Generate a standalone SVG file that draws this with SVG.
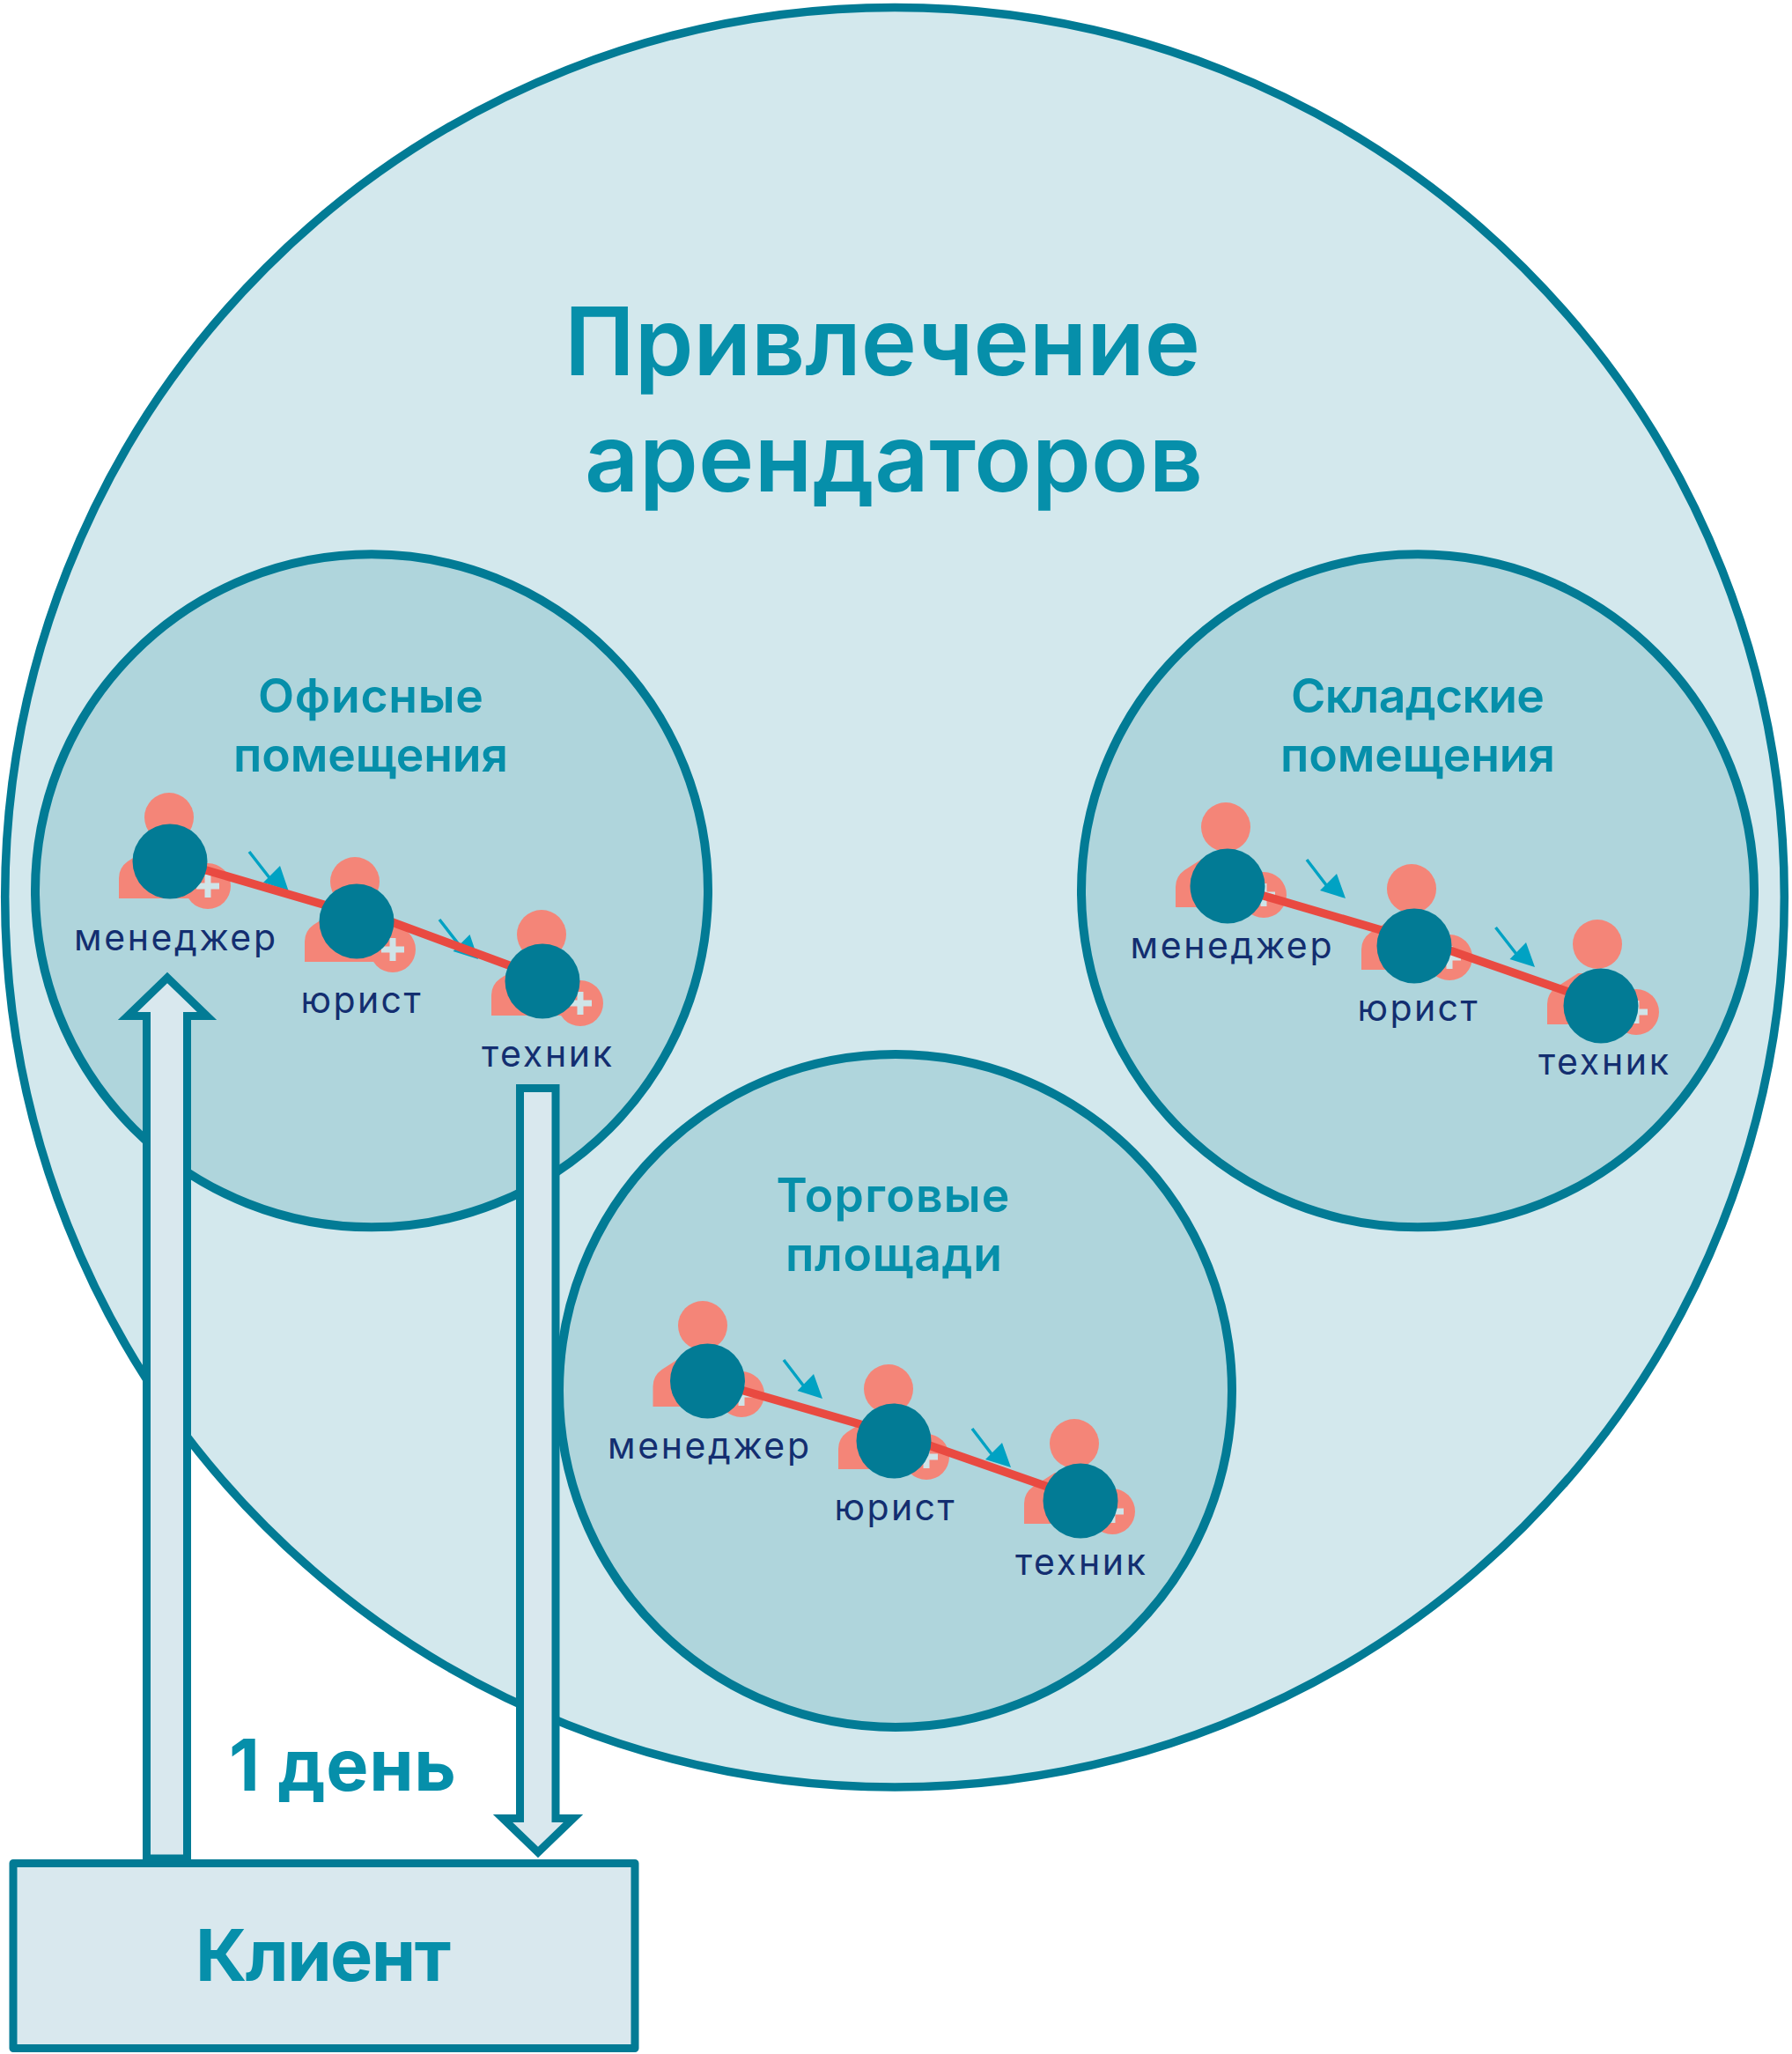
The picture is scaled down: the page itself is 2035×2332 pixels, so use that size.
<svg xmlns="http://www.w3.org/2000/svg" width="2035" height="2332" viewBox="0 0 2035 2332">
<style>
text{font-family:"Inter","Liberation Sans",sans-serif;text-anchor:middle}
.big{fill:#D3E8ED;stroke:#027B95;stroke-width:9.5}
.sub{fill:#AFD5DC;stroke:#027B95;stroke-width:10}
.t1{font-size:107px;font-weight:600;fill:#068FAA}
.t2{font-size:53.500px;font-weight:600;fill:#068FAA}
.t3{font-size:81px;font-weight:700;fill:#068FAA}
.lb{font-size:41px;fill:#132E70}
.salmon{fill:#F48578}
.plus{fill:#CFE4E8}
.disc{fill:#027B95}
.red{stroke:#E94A41;stroke-width:9.500;fill:none}
.ah{stroke:#00A2C3;stroke-width:3.500;fill:none}
.ahh{fill:#00A2C3}
.blk{fill:#D9E8EE;stroke:#027B95;stroke-width:9;stroke-linejoin:miter}
.box{fill:#D9E8EE;stroke:#027B95;stroke-width:9;stroke-linejoin:round}
</style>
<defs>
<path id="plus" d="M-13-3.500H-3.500V-13H3.500V-3.500H13V3.500H3.500V13H-3.500V3.500H-13Z" class="plus"/>
<path id="body" d="M0 0V-23Q0-35 10-42L35-58H65L85-30V0Z" class="salmon"/>
<circle id="head" r="28" class="salmon"/>
<circle id="badge" r="26" class="salmon"/>
<circle id="dsc" r="42.500" class="disc"/>
</defs>

<g id="outer-circle"><circle class="big" cx="1016" cy="1018.700" r="1010.300"/></g>
<g id="title"><text class="t1" x="1002" y="426" textLength="722">Привлечение</text><text class="t1" x="1015" y="558" textLength="702">арендаторов</text></g>

<g id="office"><circle class="sub" cx="422" cy="1011.300" r="382"/><text class="t2" x="421" y="809" textLength="256">Офисные</text><text class="t2" x="421" y="876" textLength="312">помещения</text></g>
<g id="warehouse"><circle class="sub" cx="1610" cy="1011.300" r="382"/><text class="t2" x="1610" y="809" textLength="288">Складские</text><text class="t2" x="1610" y="876" textLength="312">помещения</text></g>
<g id="retail"><circle class="sub" cx="1017" cy="1579" r="382"/><text class="t2" x="1014" y="1376" textLength="265">Торговые</text><text class="t2" x="1015" y="1443" textLength="246">площади</text></g>

<g id="office-manager"><use href="#head" x="192" y="928"/><use href="#body" x="135" y="1020"/><use href="#badge" x="236" y="1006"/><use href="#plus" x="236" y="1006"/><text class="lb" x="198.500" y="1079" textLength="229">менеджер</text></g>
<g id="office-lawyer"><use href="#head" x="403" y="1001"/><use href="#body" x="346" y="1092"/><use href="#badge" x="446" y="1078"/><use href="#plus" x="446" y="1078"/><text class="lb" x="409.500" y="1150" textLength="136">юрист</text></g>
<g id="office-tech"><use href="#head" x="615" y="1061"/><use href="#body" x="558" y="1153"/><use href="#badge" x="659" y="1139"/><use href="#plus" x="659" y="1139"/><text class="lb" x="621" y="1211" textLength="148">техник</text></g>

<g id="warehouse-manager"><use href="#head" x="1392" y="939"/><use href="#body" x="1335" y="1030"/><use href="#badge" x="1435" y="1016"/><use href="#plus" x="1435" y="1016"/><text class="lb" x="1398" y="1088" textLength="229">менеджер</text></g>
<g id="warehouse-lawyer"><use href="#head" x="1603" y="1009"/><use href="#body" x="1546" y="1101"/><use href="#badge" x="1646" y="1087"/><use href="#plus" x="1646" y="1087"/><text class="lb" x="1609.500" y="1159" textLength="136">юрист</text></g>
<g id="warehouse-tech"><use href="#head" x="1814" y="1072"/><use href="#body" x="1757" y="1163"/><use href="#badge" x="1858" y="1149"/><use href="#plus" x="1858" y="1149"/><text class="lb" x="1821" y="1220" textLength="148">техник</text></g>

<g id="retail-manager"><use href="#head" x="798" y="1505"/><use href="#body" x="741.500" y="1597"/><use href="#badge" x="842" y="1583"/><use href="#plus" x="842" y="1583"/><text class="lb" x="804.500" y="1656" textLength="229">менеджер</text></g>
<g id="retail-lawyer"><use href="#head" x="1009" y="1577"/><use href="#body" x="952" y="1668"/><use href="#badge" x="1052" y="1654"/><use href="#plus" x="1052" y="1654"/><text class="lb" x="1015.500" y="1726" textLength="136">юрист</text></g>
<g id="retail-tech"><use href="#head" x="1220" y="1639"/><use href="#body" x="1163" y="1730"/><use href="#badge" x="1263" y="1716"/><use href="#plus" x="1263" y="1716"/><text class="lb" x="1227" y="1788" textLength="148">техник</text></g>

<g id="connectors">
<path class="ah" d="M283 967L311 1003M499 1044L527 1080M1484 976L1510 1010M1698.500 1053L1725 1087M890 1544L916 1578M1104 1622L1130 1656"/>
<path class="ahh" d="M327.500 1011L318 983L299 1002ZM543 1089L533.500 1061L514.500 1080ZM1528 1020L1518 992L1499 1011ZM1743 1098L1733 1070L1714.500 1089ZM934 1588L924 1560L905.500 1579ZM1148 1666L1138 1638L1119 1657Z"/>
<path class="red" d="M200 978L405 1038M405 1032L616 1110M1394 1005L1606 1067M1606 1065L1818 1139M803 1567L1015 1628M1015 1627L1227 1701"/>
</g>

<g id="office-manager-disc"><use href="#dsc" x="193" y="978"/></g>
<g id="office-lawyer-disc"><use href="#dsc" x="405" y="1046"/></g>
<g id="office-tech-disc"><use href="#dsc" x="616" y="1114"/></g>
<g id="warehouse-manager-disc"><use href="#dsc" x="1394" y="1006"/></g>
<g id="warehouse-lawyer-disc"><use href="#dsc" x="1606" y="1074"/></g>
<g id="warehouse-tech-disc"><use href="#dsc" x="1818" y="1142"/></g>
<g id="retail-manager-disc"><use href="#dsc" x="803.500" y="1568"/></g>
<g id="retail-lawyer-disc"><use href="#dsc" x="1015" y="1636"/></g>
<g id="retail-tech-disc"><use href="#dsc" x="1227" y="1704"/></g>

<g id="flow-arrows">
<path class="blk" d="M166.500 2110V1153.500H145L190 1110L235 1153.500H212.500V2110Z"/>
<path class="blk" d="M590.500 1235.500H631V2064.500H651L611 2103L571 2064.500H590.500Z"/>
</g>
<g id="client"><rect class="box" x="15" y="2115.500" width="706" height="210"/><text class="t3" x="367" y="2249" textLength="290">Клиент</text></g>
<g id="duration"><text class="t3" x="389" y="2033" textLength="258">1 день</text></g>
</svg>
